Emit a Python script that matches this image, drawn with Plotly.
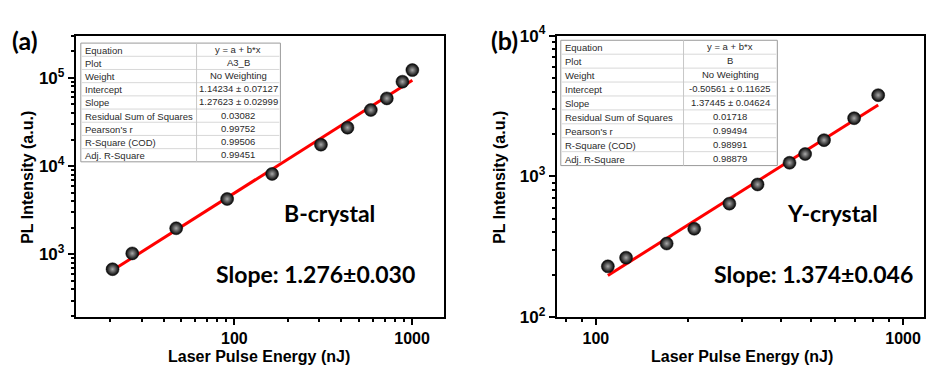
import numpy as np
import plotly.graph_objects as go

# ---------------- data ----------------
# Panel (a): B-crystal
energy_a = [20.6, 26.6, 47.0, 91.0, 163, 307, 433, 586, 721, 883, 1004]
pl_a = [679, 1026, 1977, 4245, 8170, 17530, 27300, 43300, 58600, 90600, 122700]
intercept_a, slope_a = 1.14234, 1.27623

# Panel (b): Y-crystal
energy_b = [109.4, 125.4, 170, 209, 272, 336, 427, 480, 553, 693, 830]
pl_b = [230, 265, 334, 425, 641, 877, 1250, 1442, 1809, 2590, 3775]
intercept_b, slope_b = -0.50561, 1.37445

table_labels = ["Equation", "Plot", "Weight", "Intercept", "Slope",
                "Residual Sum of Squares", "Pearson's r", "R-Square (COD)", "Adj. R-Square"]
table_a = ["y = a + b*x", "A3_B", "No Weighting", "1.14234 ± 0.07127", "1.27623 ± 0.02999",
           "0.03082", "0.99752", "0.99506", "0.99451"]
table_b = ["y = a + b*x", "B", "No Weighting", "-0.50561 ± 0.11625", "1.37445 ± 0.04624",
           "0.01718", "0.99494", "0.98991", "0.98879"]

W, H = 926, 381


def px(x):
    return x / W


def py(y):
    return 1 - y / H


def fit_line(xs, a, b):
    xf = np.array([min(xs), max(xs)])
    return xf, 10 ** (a + b * np.log10(xf))


def minor_vals(lo, hi):
    out = []
    for d in range(lo, hi + 1):
        for m in range(2, 10):
            out.append(m * 10 ** d)
    return out


fig = go.Figure()

marker = dict(size=13, color="black", line=dict(color="#111", width=0.5),
              gradient=dict(type="radial", color="#a8a8a8"))

xf, yf = fit_line(energy_a, intercept_a, slope_a)
fig.add_trace(go.Scatter(x=xf, y=yf, mode="lines", line=dict(color="#ff0000", width=3),
                         xaxis="x", yaxis="y", showlegend=False))
fig.add_trace(go.Scatter(x=energy_a, y=pl_a, mode="markers", marker=marker,
                         xaxis="x", yaxis="y", showlegend=False))

xf, yf = fit_line(energy_b, intercept_b, slope_b)
fig.add_trace(go.Scatter(x=xf, y=yf, mode="lines", line=dict(color="#ff0000", width=3),
                         xaxis="x2", yaxis="y2", showlegend=False))
fig.add_trace(go.Scatter(x=energy_b, y=pl_b, mode="markers", marker=marker,
                         xaxis="x2", yaxis="y2", showlegend=False))

cell_font = dict(family="Liberation Sans, Arial", size=9.5, color="#2a2a2a")


def add_table(values, x0, x1, xs, y0, y1):
    n = len(table_labels)
    rh = (y1 - y0) / n
    fig.add_shape(type="rect", xref="paper", yref="paper",
                  x0=px(x0), x1=px(x1), y0=py(y1), y1=py(y0),
                  fillcolor="white", line=dict(color="#9a9a9a", width=1), layer="above")
    for i in range(1, n):
        yy = y0 + i * rh
        fig.add_shape(type="line", xref="paper", yref="paper",
                      x0=px(x0 + 1), x1=px(x1 - 1), y0=py(yy), y1=py(yy),
                      line=dict(color="#d8d8d8", width=1), layer="above")
    fig.add_shape(type="line", xref="paper", yref="paper",
                  x0=px(xs), x1=px(xs), y0=py(y1), y1=py(y0),
                  line=dict(color="#c8c8c8", width=1), layer="above")
    for i, (lab, val) in enumerate(zip(table_labels, values)):
        yc = y0 + (i + 0.5) * rh
        fig.add_annotation(xref="paper", yref="paper", x=px(x0 + 2), y=py(yc + 0.5),
                           text=lab, showarrow=False, xanchor="left", yanchor="middle",
                           font=cell_font)
        fig.add_annotation(xref="paper", yref="paper", x=px((xs + x1) / 2), y=py(yc - 0.5),
                           text=val, showarrow=False, xanchor="center", yanchor="middle",
                           font=cell_font)


add_table(table_a, 81, 281, 197, 33, 159)
add_table(table_b, 562, 779, 685, 30, 163)

tickfont = dict(family="Liberation Sans, Arial", size=16, color="black", weight="bold")
axis_common = dict(type="log", showgrid=False, zeroline=False, showline=True,
                   linecolor="black", linewidth=2, mirror=True, ticks="outside",
                   ticklen=6, tickwidth=1.5, tickcolor="black", tickfont=tickfont)

fig.update_layout(
    width=W, height=H, margin=dict(l=0, r=0, t=0, b=0),
    paper_bgcolor="white", plot_bgcolor="white",
    xaxis=dict(axis_common, domain=[px(76), px(445)], anchor="y",
               range=[np.log10(12.8), np.log10(1514)],
               tickmode="array", tickvals=[100, 1000], ticktext=["100", "1000"],
               minor=dict(tickmode="array", tickvals=minor_vals(1, 2), ticks="outside",
                          ticklen=3, tickcolor="black", showgrid=False)),
    yaxis=dict(axis_common, domain=[py(324), py(25)], anchor="x",
               range=[2.287, 5.48],
               tickmode="array", tickvals=[1e3, 1e4, 1e5],
               ticktext=["10<sup>3</sup>", "10<sup>4</sup>", "10<sup>5</sup>"],
               tickfont=dict(tickfont, size=17),
               minor=dict(tickmode="array", tickvals=minor_vals(2, 5), ticks="outside",
                          ticklen=3, tickcolor="black", showgrid=False)),
    xaxis2=dict(axis_common, domain=[px(558), 1.0], anchor="y2",
                range=[np.log10(74.6), np.log10(1170)],
                tickmode="array", tickvals=[100, 1000], ticktext=["100", "1000"],
                minor=dict(tickmode="array", tickvals=minor_vals(1, 3), ticks="outside",
                           ticklen=3, tickcolor="black", showgrid=False)),
    yaxis2=dict(axis_common, domain=[py(324), py(25)], anchor="x2",
                range=[2, 4],
                tickmode="array", tickvals=[1e2, 1e3, 1e4],
                ticktext=["10<sup>2</sup>", "10<sup>3</sup>", "10<sup>4</sup>"],
                tickfont=dict(tickfont, size=17),
                minor=dict(tickmode="array", tickvals=minor_vals(2, 3), ticks="outside",
                           ticklen=3, tickcolor="black", showgrid=False)),
)

title_font = dict(family="Liberation Sans, Arial", size=16, color="black", weight="bold")
label_font = dict(family="Lato, Open Sans", size=23, color="black", weight="bold")
big_font = dict(family="Lato, Open Sans", size=25, color="black", weight="bold")

annots = [
    dict(x=px(28), y=py(175), text="PL Intensity (a.u.)", textangle=-90, font=title_font),
    dict(x=px(501), y=py(175), text="PL Intensity (a.u.)", textangle=-90, font=title_font),
    dict(x=px(260), y=py(366), text="Laser Pulse Energy (nJ)", font=title_font),
    dict(x=px(744), y=py(366), text="Laser Pulse Energy (nJ)", font=title_font),
    dict(x=px(25), y=py(30), text="(a)", font=big_font),
    dict(x=px(506), y=py(30), text="(b)", font=big_font),
    dict(x=px(330), y=py(213), text="B-crystal", font=label_font),
    dict(x=px(316), y=py(278), text="Slope: 1.276±0.030", font=label_font),
    dict(x=px(834), y=py(213), text="Y-crystal", font=label_font),
    dict(x=px(815), y=py(278), text="Slope: 1.374±0.046", font=label_font),
]
for a in annots:
    fig.add_annotation(xref="paper", yref="paper", showarrow=False,
                       xanchor="center", yanchor="middle", **a)

fig.write_html("out.html")
